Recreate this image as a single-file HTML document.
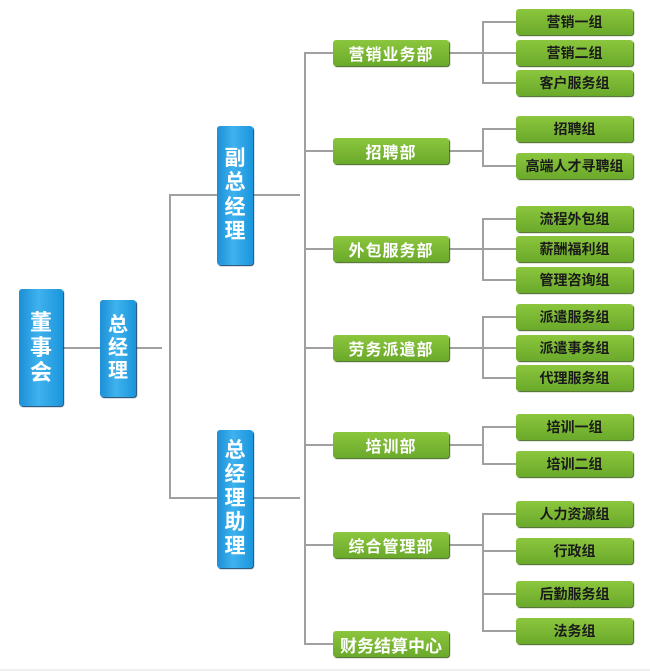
<!DOCTYPE html>
<html><head><meta charset="utf-8"><style>
body{margin:0;width:650px;height:671px;background:#fff;position:relative;overflow:hidden;font-family:"Liberation Sans","Noto Sans CJK SC",sans-serif;font-weight:bold}
.b{position:absolute;background:linear-gradient(90deg,#1c8fd6,#3fb2ee 45%,#1a95dc);border-radius:3px;box-shadow:1px 1px 1px #0d3e66;color:#fff;text-align:center;display:flex;flex-direction:column;justify-content:center;align-items:center;line-height:1.15}
.g{position:absolute;background:linear-gradient(180deg,#8cc63e,#6aa92a);border-radius:3px;box-shadow:1px 1px 1px #3c5e1a;color:#fff;display:flex;justify-content:center;align-items:center;white-space:nowrap}
.d{left:333px;width:116px;height:26px;font-size:16px;letter-spacing:1px}
.s{left:516px;width:117px;height:26px;font-size:14px;color:#1a1a1a}
</style></head><body>
<svg width="650" height="671" style="position:absolute;left:0;top:0">
<g stroke="#a0a0a0" stroke-width="2" fill="none">
<path d="M63 348H100M136 348H162"/>
<path d="M217 195H170V498H217"/>
<path d="M253 195H300M253 498H300"/>
<path d="M333 53H305V644H333M305 151H333M305 249H333M305 348H333M305 445H333M305 545H333"/>
<path d="M449 53H516M516 22H483V83H516"/>
<path d="M449 151H483M516 129H483V166H516"/>
<path d="M449 249H516M516 219H483V280H516"/>
<path d="M449 348H516M516 317H483V378H516"/>
<path d="M449 445H483M516 427H483V464H516"/>
<path d="M449 545H483M516 514H483V631H516M483 551H516M483 594H516"/>
</g>
<line x1="0" y1="670" x2="650" y2="670" stroke="#ddd"/>
</svg>
<div class="b" style="left:19px;top:289px;width:44px;height:117px;font-size:22px">董<br>事<br>会</div>
<div class="b" style="left:100px;top:300px;width:36px;height:97px;font-size:20px">总<br>经<br>理</div>
<div class="b" style="left:217px;top:126px;width:36px;height:139px;font-size:21px">副<br>总<br>经<br>理</div>
<div class="b" style="left:217px;top:430px;width:36px;height:138px;font-size:21px">总<br>经<br>理<br>助<br>理</div>
<div class="g d" style="top:40px">营销业务部</div>
<div class="g d" style="top:138px">招聘部</div>
<div class="g d" style="top:236px">外包服务部</div>
<div class="g d" style="top:335px">劳务派遣部</div>
<div class="g d" style="top:432px">培训部</div>
<div class="g d" style="top:532px">综合管理部</div>
<div class="g d" style="top:631px;font-size:17px;letter-spacing:0">财务结算中心</div>
<div class="g s" style="top:9px">营销一组</div>
<div class="g s" style="top:40px">营销二组</div>
<div class="g s" style="top:70px">客户服务组</div>
<div class="g s" style="top:116px">招聘组</div>
<div class="g s" style="top:153px">高端人才寻聘组</div>
<div class="g s" style="top:206px">流程外包组</div>
<div class="g s" style="top:236px">薪酬福利组</div>
<div class="g s" style="top:267px">管理咨询组</div>
<div class="g s" style="top:304px">派遣服务组</div>
<div class="g s" style="top:335px">派遣事务组</div>
<div class="g s" style="top:365px">代理服务组</div>
<div class="g s" style="top:414px">培训一组</div>
<div class="g s" style="top:451px">培训二组</div>
<div class="g s" style="top:501px">人力资源组</div>
<div class="g s" style="top:538px">行政组</div>
<div class="g s" style="top:581px">后勤服务组</div>
<div class="g s" style="top:618px">法务组</div>
</body></html>
